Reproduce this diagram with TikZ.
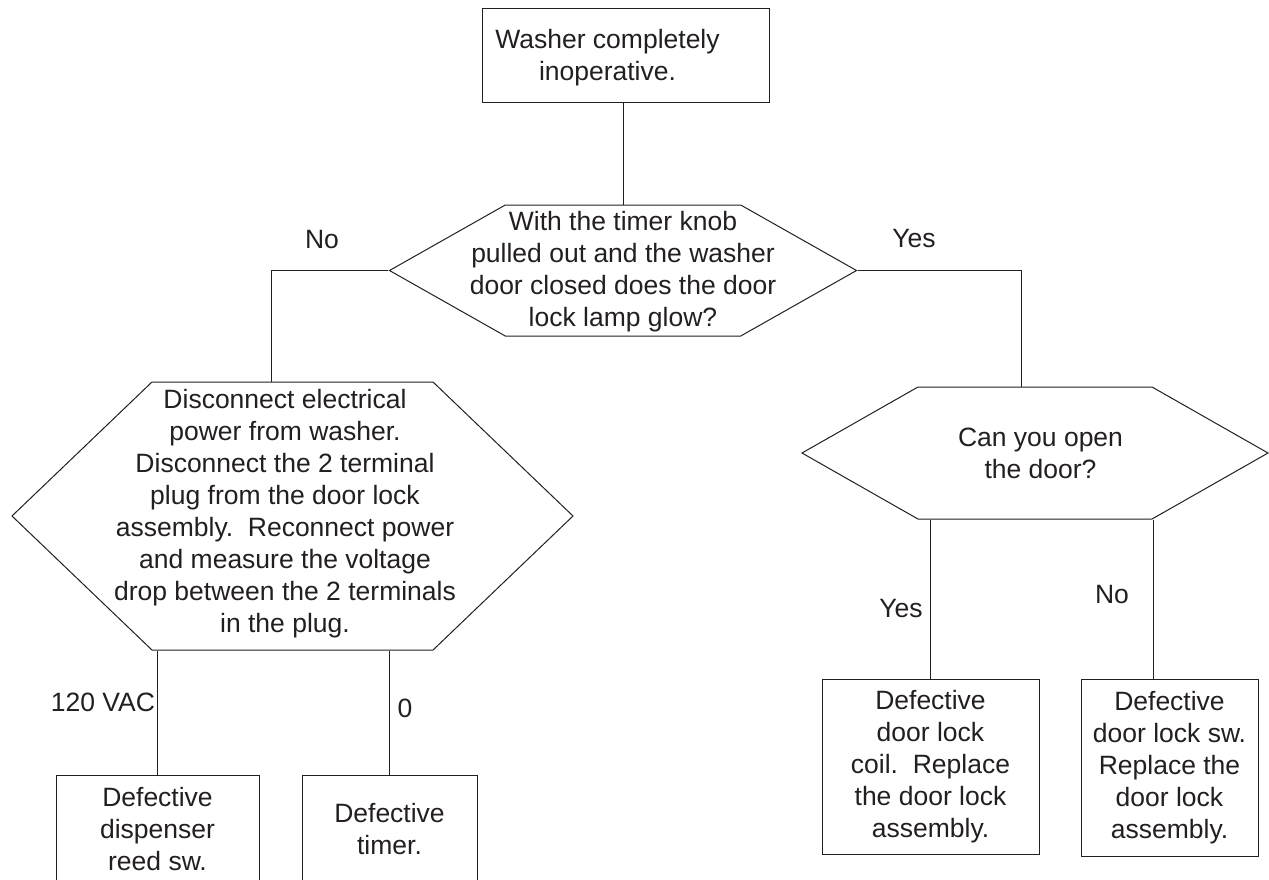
\documentclass[tikz,border=0pt]{standalone}
\usepackage{fontspec}
\setmainfont{Liberation Sans}
\usetikzlibrary{shapes.symbols}
\definecolor{ink}{RGB}{35,31,32}

\begin{document}
\begin{tikzpicture}[x=1pt,y=-1pt,
  every node/.style={font=\fontsize{26.5}{32}\selectfont, text=ink},
  box/.style={draw=ink, line width=1pt, align=center, inner sep=0pt},
  hexa/.style={draw=ink, line width=1pt, signal, signal to=east and west, inner sep=0pt},
  txt/.style={align=center, inner sep=0pt},
  lbl/.style={anchor=base, inner sep=0pt},
  link/.style={draw=ink, line width=1pt}]
  \useasboundingbox (0,0) rectangle (1269,879);

  \node[box, minimum width=287pt, minimum height=94pt] (start) at (625.5,55) {};
  \node[txt] (startt) at (607.5,57.4) {Washer completely\\inoperative.};

  \node[hexa, minimum width=467pt, minimum height=131pt, signal pointer angle=59] (lamp) at (623,270.5) {};
  \node[txt] (lampt) at (623,271.2) {With the timer knob\\pulled out and the washer\\door closed does the door\\lock lamp glow?};

  \node[hexa, minimum width=561pt, minimum height=268pt, signal pointer angle=87.5] (dis) at (292.5,516) {};
  \node[txt] (dist) at (285,514) {Disconnect electrical\\power from washer.\\Disconnect the 2 terminal\\plug from the door lock\\assembly.\ \ Reconnect power\\and measure the voltage\\drop between the 2 terminals\\in the plug.};

  \node[hexa, minimum width=466pt, minimum height=132pt, signal pointer angle=59.3] (door) at (1035,453) {};
  \node[txt] (doort) at (1040.5,453.4) {Can you open\\the door?};

  \node[box, minimum width=203pt, minimum height=108pt] (reed) at (157.5,829) {Defective\\dispenser\\reed sw.};
  \node[box, minimum width=175pt, minimum height=108pt] (timer) at (389.5,829) {Defective\\timer.};
  \node[box, minimum width=217pt, minimum height=175pt] (coil) at (930.5,766.5) {Defective\\door lock\\coil.\ \ Replace\\the door lock\\assembly.};
  \node[box, minimum width=177pt, minimum height=177pt] (locksw) at (1169.5,767.5) {Defective\\door lock sw.\\Replace the\\door lock\\assembly.};

  \draw[link] (lamp.north) -- (lamp.north |- start.south);
  \draw[link] (lamp.west) -| ([xshift=-21pt]dis.north);
  \draw[link] (lamp.east) -| ([xshift=-14pt]door.north);
  \draw[link] (reed.north) -- (reed.north |- dis.south);
  \draw[link] (timer.north) -- (timer.north |- dis.south);
  \draw[link] (coil.north) -- (coil.north |- door.south);
  \draw[link] ([xshift=-16pt]locksw.north) -- ([xshift=-16pt]locksw.north |- door.south);

  \node[lbl] (no1) at (322,248) {No};
  \node[lbl] (yes1) at (914,247) {Yes};
  \node[lbl] (vac) at (103,711) {120 VAC};
  \node[lbl] (zero) at (405,717) {0};
  \node[lbl] (yes2) at (901,617) {Yes};
  \node[lbl] (no2) at (1112,603) {No};
\end{tikzpicture}
\end{document}
